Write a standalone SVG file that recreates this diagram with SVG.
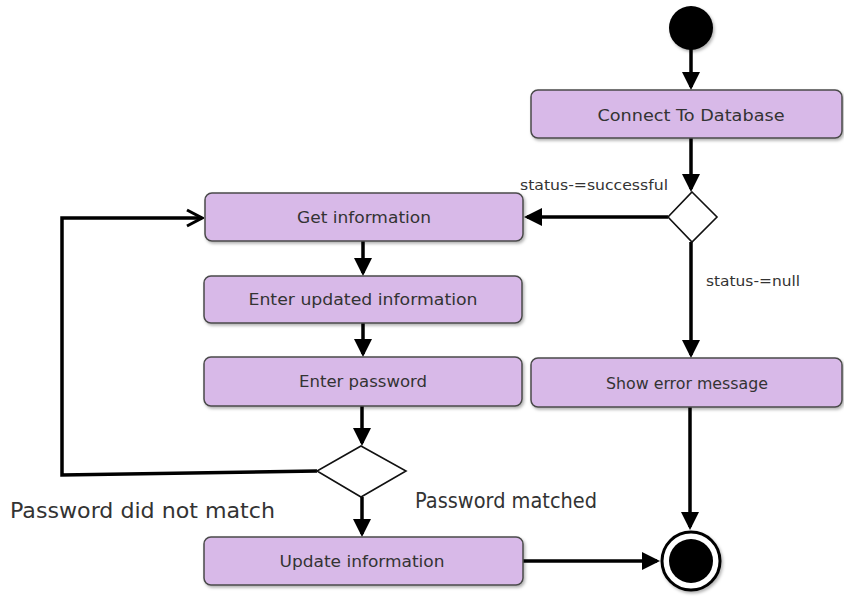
<svg xmlns="http://www.w3.org/2000/svg" width="844" height="597" viewBox="0 0 844 597">
<style>
.box{fill:#d8b9e8;stroke:#4a4a4a;stroke-width:1.5;filter:url(#sh)}
.lbl{font-family:"DejaVu Sans","Liberation Sans",sans-serif;font-size:16px;fill:#333;text-anchor:middle}
.note{font-family:"DejaVu Sans","Liberation Sans",sans-serif;fill:#333}
.ln{fill:none;stroke:#000;stroke-width:3.5}
.dia{fill:#fff;stroke:#111;stroke-width:1.6}
</style>
<defs>
<filter id="sh" x="-5%" y="-20%" width="115%" height="150%">
<feDropShadow dx="1.5" dy="2" stdDeviation="1.5" flood-color="#000" flood-opacity="0.3"/>
</filter>
<marker id="arr" markerUnits="userSpaceOnUse" markerWidth="18" markerHeight="18" viewBox="0 0 18 18" refX="15" refY="9" orient="auto">
<path d="M0,0 L18,9 L0,18 z" fill="#000"/>
</marker>
<marker id="open" markerUnits="userSpaceOnUse" markerWidth="18" markerHeight="20" viewBox="0 0 18 20" refX="16" refY="10" orient="auto">
<path d="M1,2 L16,10 L1,18" fill="none" stroke="#000" stroke-width="3"/>
</marker>
</defs>
<rect width="844" height="597" fill="#fff"/>

<g id="connectors">
<line class="ln" x1="691" y1="48" x2="691" y2="87" marker-end="url(#arr)"/>
<line class="ln" x1="691" y1="138" x2="691" y2="189" marker-end="url(#arr)"/>
<line class="ln" x1="668" y1="217" x2="527" y2="217" marker-end="url(#arr)"/>
<line class="ln" x1="691" y1="242" x2="691" y2="355" marker-end="url(#arr)"/>
<line class="ln" x1="363" y1="241" x2="363" y2="273" marker-end="url(#arr)"/>
<line class="ln" x1="363" y1="323" x2="363" y2="354" marker-end="url(#arr)"/>
<line class="ln" x1="362" y1="406" x2="362" y2="443" marker-end="url(#arr)"/>
<line class="ln" x1="362" y1="497" x2="362" y2="534" marker-end="url(#arr)"/>
<path class="ln" d="M317,471 L62,475 L62,218 L202,218" marker-end="url(#open)"/>
<line class="ln" x1="523" y1="561" x2="657" y2="561" marker-end="url(#arr)"/>
<line class="ln" x1="690" y1="407" x2="690" y2="527" marker-end="url(#arr)"/>
</g>

<g id="start"><circle cx="691" cy="28" r="22" fill="#000" filter="url(#sh)"/></g>

<g id="connect"><rect class="box" x="531" y="90" width="311" height="48" rx="7"/>
<text class="lbl" x="691" y="121" textLength="187" lengthAdjust="spacingAndGlyphs">Connect To Database</text></g>

<g id="decision1"><polygon class="dia" points="692,192 717,217 692,242 668,217"/></g>

<g id="getinfo"><rect class="box" x="205" y="193" width="318" height="48" rx="7"/>
<text class="lbl" x="364" y="223" textLength="134" lengthAdjust="spacingAndGlyphs">Get information</text></g>

<g id="enterupdated"><rect class="box" x="204" y="276" width="318" height="47" rx="7"/>
<text class="lbl" x="363" y="305" textLength="229" lengthAdjust="spacingAndGlyphs">Enter updated information</text></g>

<g id="enterpassword"><rect class="box" x="204" y="357" width="318" height="49" rx="7"/>
<text class="lbl" x="363" y="387" textLength="128" lengthAdjust="spacingAndGlyphs">Enter password</text></g>

<g id="showerror"><rect class="box" x="531" y="358" width="311" height="49" rx="7"/>
<text class="lbl" x="687" y="389" textLength="162" lengthAdjust="spacingAndGlyphs">Show error message</text></g>

<g id="decision2"><polygon class="dia" points="361,446 406,471 361,497 317,471"/></g>

<g id="update"><rect class="box" x="204" y="537" width="319" height="48" rx="7"/>
<text class="lbl" x="362" y="567" textLength="165" lengthAdjust="spacingAndGlyphs">Update information</text></g>

<g id="end"><circle cx="691" cy="561" r="29" fill="#fff" stroke="#000" stroke-width="3" filter="url(#sh)"/>
<circle cx="691" cy="561" r="22" fill="#000"/></g>

<g id="labels">
<text class="note" x="520" y="190" font-size="14" textLength="148" lengthAdjust="spacingAndGlyphs">status-=successful</text>
<text class="note" x="706" y="286" font-size="14" textLength="94" lengthAdjust="spacingAndGlyphs">status-=null</text>
<text class="note" x="10" y="518" font-size="21" textLength="265" lengthAdjust="spacingAndGlyphs">Password did not match</text>
<text class="note" x="415" y="508" font-size="21" textLength="182" lengthAdjust="spacingAndGlyphs">Password matched</text>
</g>
</svg>
